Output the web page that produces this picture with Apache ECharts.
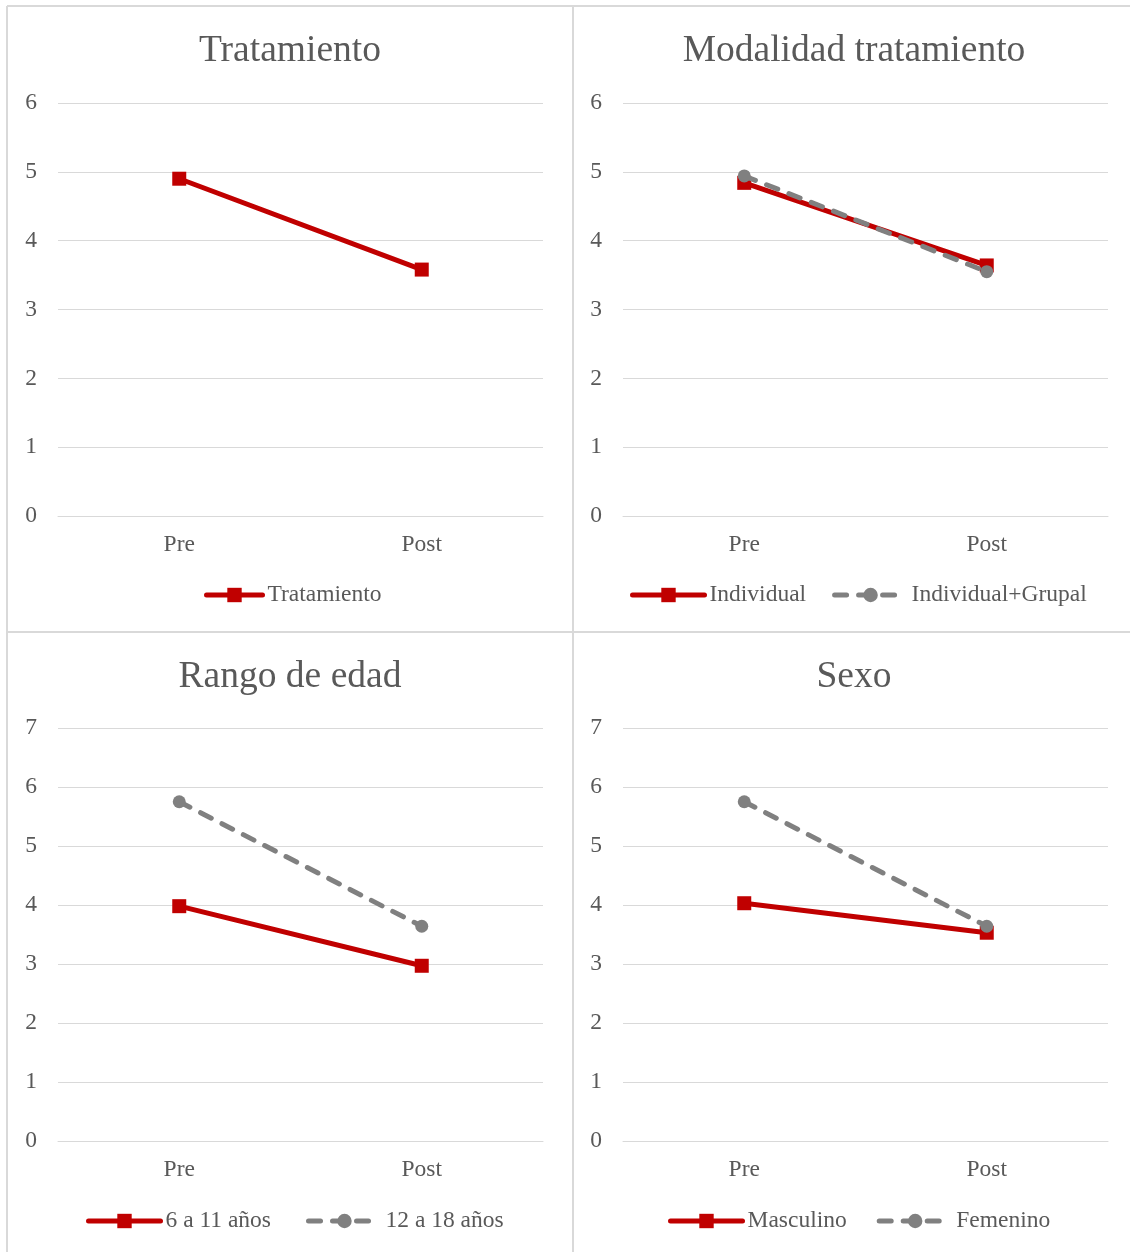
<!DOCTYPE html>
<html>
<head>
<meta charset="utf-8">
<script src="https://cdn.jsdelivr.net/npm/echarts@6/dist/echarts.min.js"></script>
<style>
  html, body { margin: 0; padding: 0; background: #ffffff; }
  #chart { width: 1130px; height: 1252px; }
</style>
</head>
<body>
<div id="chart"></div>
<script>
// Category axis and panel titles
const categories = ['Pre', 'Post'];
const panelTitles = ['Tratamiento', 'Modalidad tratamiento', 'Rango de edad', 'Sexo'];

// Mean scores per group
const tratamiento = [4.90, 3.58];
const individual = [4.84, 3.64];
const individualGrupal = [4.94, 3.55];
const edad6a11 = [3.98, 2.97];
const edad12a18 = [5.75, 3.64];
const masculino = [4.03, 3.53];
const femenino = [5.75, 3.64];

// Y axis ranges per row
const yMaxTop = 6;
const yMaxBottom = 7;

const RED = '#C00000';
const GRAY = '#808080';
const TEXT = '#595959';
const GRID = '#D9D9D9';
const FONT = '"Liberation Serif", "Times New Roman", serif';

const chart = echarts.init(document.getElementById('chart'));

const panels = [
  { left: 58, top: 103, height: 413, max: yMaxTop, cx: 290, titleTop: 32, legendTop: 583, legendLeft: 204, iconW: 56, gap: 28 },
  { left: 623, top: 103, height: 413, max: yMaxTop, cx: 854, titleTop: 32, legendTop: 583, legendLeft: 630, iconW: 72, gap: 26 },
  { left: 58, top: 728, height: 413, max: yMaxBottom, cx: 290, titleTop: 658, legendTop: 1209, legendLeft: 86, iconW: 72, gap: 35 },
  { left: 623, top: 728, height: 413, max: yMaxBottom, cx: 854, titleTop: 658, legendTop: 1209, legendLeft: 668, iconW: 72, gap: 30 }
];

const seriesDefs = [
  [{ name: 'Tratamiento', data: tratamiento, solid: true }],
  [{ name: 'Individual', data: individual, solid: true }, { name: 'Individual+Grupal', data: individualGrupal, solid: false }],
  [{ name: '6 a 11 años', data: edad6a11, solid: true }, { name: '12 a 18 años', data: edad12a18, solid: false }],
  [{ name: 'Masculino', data: masculino, solid: true }, { name: 'Femenino', data: femenino, solid: false }]
];

const grid = [], xAxis = [], yAxis = [], title = [], legend = [], series = [];

panels.forEach((p, i) => {
  grid.push({ left: p.left, top: p.top, width: 485, height: p.height, containLabel: false });
  xAxis.push({
    type: 'category', gridIndex: i, data: categories, boundaryGap: true,
    axisLine: { show: true, lineStyle: { color: GRID, width: 1 } },
    axisTick: { show: false },
    axisLabel: { color: TEXT, fontFamily: FONT, fontSize: 23.5, margin: 17 }
  });
  yAxis.push({
    type: 'value', gridIndex: i, min: 0, max: p.max, interval: 1,
    axisLine: { show: false }, axisTick: { show: false },
    splitLine: { lineStyle: { color: GRID, width: 1 } },
    axisLabel: { color: TEXT, fontFamily: FONT, fontSize: 23.5, margin: 21 }
  });
  title.push({
    text: panelTitles[i], left: p.cx, top: p.titleTop, textAlign: 'center', padding: 0,
    textStyle: { color: TEXT, fontFamily: FONT, fontSize: 37.5, fontWeight: 'normal' }
  });
  legend.push({
    data: seriesDefs[i].map(s => s.name),
    left: p.legendLeft, top: p.legendTop, padding: 0,
    itemWidth: p.iconW, itemHeight: 18, itemGap: p.gap,
    lineStyle: { width: 5 },
    textStyle: { color: TEXT, fontFamily: FONT, fontSize: 23.5 },
    selectedMode: false
  });
  seriesDefs[i].forEach(s => {
    series.push({
      name: s.name, type: 'line', xAxisIndex: i, yAxisIndex: i, data: s.data,
      symbol: s.solid ? 'rect' : 'circle',
      symbolSize: s.solid ? 14 : 13,
      itemStyle: { color: s.solid ? RED : GRAY },
      lineStyle: {
        color: s.solid ? RED : GRAY, width: 5,
        type: s.solid ? 'solid' : [12, 12], cap: 'round'
      },
      z: s.solid ? 2 : 3,
      animation: false
    });
  });
});

// Panel frames
const frame = { stroke: GRID, lineWidth: 2 };
const graphic = [
  { type: 'line', shape: { x1: 7, y1: 6, x2: 1130, y2: 6 }, style: frame, silent: true },
  { type: 'line', shape: { x1: 7, y1: 6, x2: 7, y2: 1252 }, style: frame, silent: true },
  { type: 'line', shape: { x1: 573, y1: 6, x2: 573, y2: 1252 }, style: frame, silent: true },
  { type: 'line', shape: { x1: 7, y1: 632, x2: 1130, y2: 632 }, style: frame, silent: true }
];

chart.setOption({
  backgroundColor: '#ffffff',
  animation: false,
  title, legend, grid, xAxis, yAxis, series, graphic
});
</script>
</body>
</html>
